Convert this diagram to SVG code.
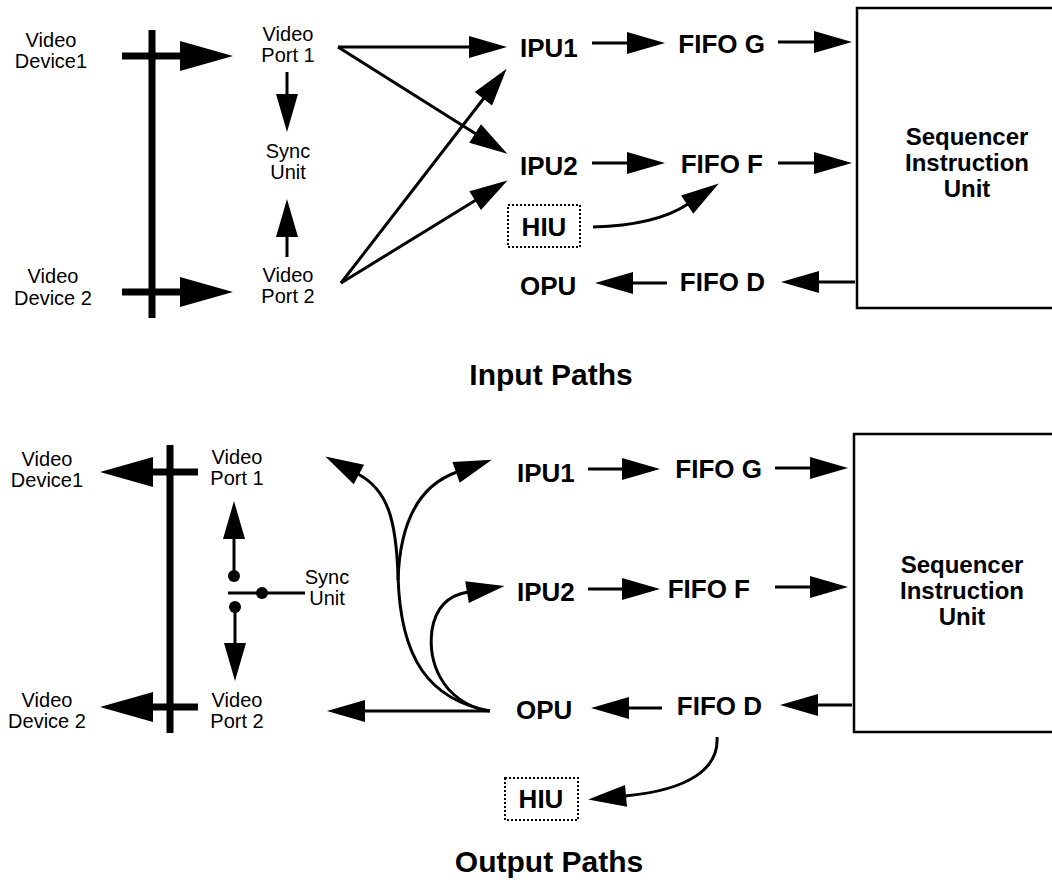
<svg xmlns="http://www.w3.org/2000/svg" width="1052" height="889" viewBox="0 0 1052 889">
<style>
.reg{font-family:"Liberation Sans",Arial,sans-serif;font-size:20px;fill:#000;text-anchor:middle}
.bold{font-family:"Liberation Sans",Arial,sans-serif;font-size:26px;font-weight:bold;fill:#000}
.seq{font-family:"Liberation Sans",Arial,sans-serif;font-size:24px;font-weight:bold;fill:#000;text-anchor:middle}
.mid{text-anchor:middle}
.end{text-anchor:end}
.title{font-family:"Liberation Sans",Arial,sans-serif;font-size:30px;font-weight:bold;fill:#000;text-anchor:middle}
.ln{stroke:#000;stroke-width:3;fill:none}
.thick{stroke:#000;stroke-width:7;fill:none}
.box{stroke:#000;stroke-width:2.5;fill:#fff}
.dot{stroke:#000;stroke-width:2;stroke-dasharray:2 2;fill:#fff}
</style>
<defs>
<marker id="ah" markerUnits="userSpaceOnUse" viewBox="0 0 38 22" markerWidth="38" markerHeight="22" refX="1" refY="11" orient="auto" overflow="visible">
<path d="M0,0 L38,11 L0,22 z" fill="#000"/>
</marker>
<marker id="bh" markerUnits="userSpaceOnUse" viewBox="0 0 53 30" markerWidth="53" markerHeight="30" refX="1" refY="15" orient="auto" overflow="visible">
<path d="M0,0 L53,15 L0,30 z" fill="#000"/>
</marker>
</defs>
<rect width="1052" height="889" fill="#fff"/>

<!-- ===== Input Paths ===== -->
<g id="in-bus"><line class="thick" x1="152" y1="30" x2="152" y2="318"/></g>
<g id="in-dev1"><text class="reg" x="51" y="47">Video</text><text class="reg" x="51" y="68">Device1</text></g>
<g id="in-dev2"><text class="reg" x="53" y="283">Video</text><text class="reg" x="53" y="305">Device 2</text></g>
<g id="in-port1"><text class="reg" x="288" y="41">Video</text><text class="reg" x="288" y="62">Port 1</text></g>
<g id="in-sync"><text class="reg" x="288" y="158">Sync</text><text class="reg" x="288" y="179">Unit</text></g>
<g id="in-port2"><text class="reg" x="288" y="282">Video</text><text class="reg" x="288" y="303">Port 2</text></g>
<g id="in-ipu1"><text class="bold" x="520" y="57">IPU1</text></g>
<g id="in-ipu2"><text class="bold" x="520" y="175">IPU2</text></g>
<g id="in-hiu"><rect class="dot" x="508" y="205" width="72" height="42"/><text class="bold mid" x="544" y="236">HIU</text></g>
<g id="in-opu"><text class="bold" x="520" y="295">OPU</text></g>
<g id="in-fifog"><text class="bold end" x="765" y="53">FIFO G</text></g>
<g id="in-fifof"><text class="bold end" x="763" y="173">FIFO F</text></g>
<g id="in-fifod"><text class="bold end" x="765" y="291">FIFO D</text></g>
<g id="in-seq"><rect class="box" x="857" y="8" width="200" height="300"/>
<text class="seq" x="967" y="145">Sequencer</text><text class="seq" x="967" y="171">Instruction</text><text class="seq" x="967" y="197">Unit</text></g>

<g id="in-connectors">
<line class="thick" x1="122" y1="56" x2="181" y2="56" marker-end="url(#bh)"/>
<line class="thick" x1="122" y1="292" x2="181" y2="292" marker-end="url(#bh)"/>
<line class="ln" x1="287" y1="72" x2="287" y2="95" marker-end="url(#ah)"/>
<line class="ln" x1="287" y1="257" x2="287" y2="236" marker-end="url(#ah)"/>
<line class="ln" x1="338" y1="47" x2="470" y2="47" marker-end="url(#ah)"/>
<line class="ln" x1="338" y1="47" x2="476" y2="134" marker-end="url(#ah)"/>
<line class="ln" x1="341" y1="283" x2="484" y2="98" marker-end="url(#ah)"/>
<line class="ln" x1="341" y1="283" x2="476" y2="200" marker-end="url(#ah)"/>
<line class="ln" x1="592" y1="43" x2="628" y2="43" marker-end="url(#ah)"/>
<line class="ln" x1="592" y1="163" x2="628" y2="163" marker-end="url(#ah)"/>
<path class="ln" d="M593,227 C630,226 664,220 688,204" marker-end="url(#ah)"/>
<line class="ln" x1="667" y1="283" x2="632" y2="283" marker-end="url(#ah)"/>
<line class="ln" x1="778" y1="42" x2="815" y2="42" marker-end="url(#ah)"/>
<line class="ln" x1="778" y1="163" x2="815" y2="163" marker-end="url(#ah)"/>
<line class="ln" x1="855" y1="282" x2="818" y2="282" marker-end="url(#ah)"/>
</g>
<text class="title" x="551" y="385">Input Paths</text>

<!-- ===== Output Paths ===== -->
<g id="out-bus"><line class="thick" x1="170" y1="445" x2="170" y2="733"/></g>
<g id="out-dev1"><text class="reg" x="47" y="466">Video</text><text class="reg" x="47" y="487">Device1</text></g>
<g id="out-dev2"><text class="reg" x="47" y="707">Video</text><text class="reg" x="47" y="728">Device 2</text></g>
<g id="out-port1"><text class="reg" x="237" y="464">Video</text><text class="reg" x="237" y="485">Port 1</text></g>
<g id="out-port2"><text class="reg" x="237" y="707">Video</text><text class="reg" x="237" y="728">Port 2</text></g>
<g id="out-sync"><text class="reg" x="327" y="584">Sync</text><text class="reg" x="327" y="605">Unit</text>
<circle cx="234" cy="576" r="6"/><circle cx="262" cy="593" r="6"/><circle cx="235" cy="607" r="6"/></g>
<g id="out-ipu1"><text class="bold" x="517" y="482">IPU1</text></g>
<g id="out-ipu2"><text class="bold" x="517" y="601">IPU2</text></g>
<g id="out-opu"><text class="bold" x="516" y="719">OPU</text></g>
<g id="out-hiu"><rect class="dot" x="505" y="778" width="73" height="42"/><text class="bold mid" x="541" y="808">HIU</text></g>
<g id="out-fifog"><text class="bold end" x="762" y="478">FIFO G</text></g>
<g id="out-fifof"><text class="bold end" x="750" y="598">FIFO F</text></g>
<g id="out-fifod"><text class="bold end" x="762" y="715">FIFO D</text></g>
<g id="out-seq"><rect class="box" x="854" y="434" width="200" height="298"/>
<text class="seq" x="962" y="573">Sequencer</text><text class="seq" x="962" y="599">Instruction</text><text class="seq" x="962" y="625">Unit</text></g>

<g id="out-connectors">
<line class="thick" x1="198" y1="472" x2="152" y2="472" marker-end="url(#bh)"/>
<line class="thick" x1="198" y1="707" x2="152" y2="707" marker-end="url(#bh)"/>
<line class="ln" x1="234" y1="576" x2="234" y2="538" marker-end="url(#ah)"/>
<line class="ln" x1="235" y1="607" x2="235" y2="644" marker-end="url(#ah)"/>
<line class="ln" x1="228" y1="593" x2="305" y2="593"/>
<line class="ln" x1="490" y1="711" x2="364" y2="711" marker-end="url(#ah)"/>
<path class="ln" d="M490,711 C430,700 400,660 398,575 C396,520 388,490 358,474" marker-end="url(#ah)"/>
<path class="ln" d="M398,580 C400,520 420,485 457,472" marker-end="url(#ah)"/>
<path class="ln" d="M487,711 C440,700 428,660 432,630 C436,605 450,595 468,592" marker-end="url(#ah)"/>
<line class="ln" x1="588" y1="469" x2="623" y2="469" marker-end="url(#ah)"/>
<line class="ln" x1="588" y1="589" x2="623" y2="589" marker-end="url(#ah)"/>
<line class="ln" x1="662" y1="708" x2="628" y2="708" marker-end="url(#ah)"/>
<line class="ln" x1="775" y1="468" x2="811" y2="468" marker-end="url(#ah)"/>
<line class="ln" x1="775" y1="587" x2="811" y2="587" marker-end="url(#ah)"/>
<line class="ln" x1="852" y1="705" x2="817" y2="705" marker-end="url(#ah)"/>
<path class="ln" d="M717,737 C719,768 690,790 625,796" marker-end="url(#ah)"/>
</g>
<text class="title" x="549" y="872">Output Paths</text>
</svg>
